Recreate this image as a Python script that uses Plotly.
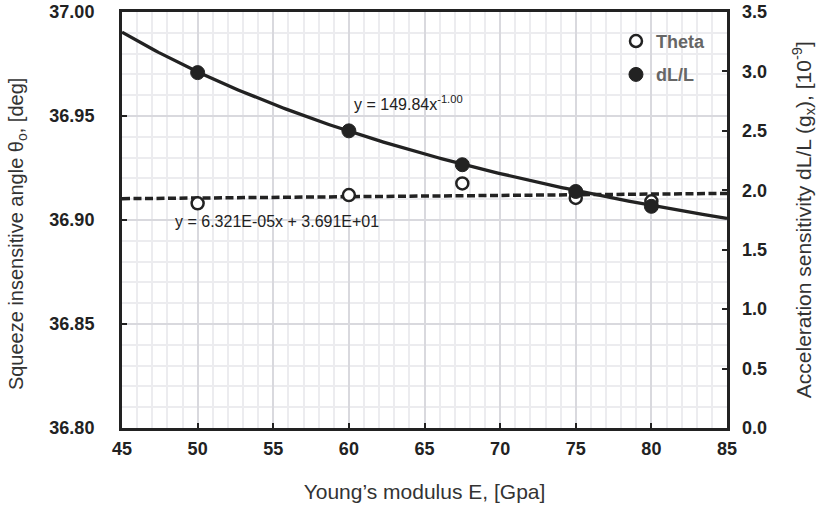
import numpy as np
import plotly.graph_objects as go

# ---- data ----
modulus_E = [50, 60, 67.5, 75, 80]
theta_deg = [36.908, 36.912, 36.9176, 36.9106, 36.9090]
dl_over_l = [2.99, 2.50, 2.215, 1.99, 1.865]

# trendline coefficients shown on chart
power_coef = 149.84
power_exp = -1.00
lin_slope = 6.321e-05
lin_intercept = 36.9074

x_ticks = [45, 50, 55, 60, 65, 70, 75, 80, 85]
left_ticks = [36.80, 36.85, 36.90, 36.95, 37.00]
right_ticks = [0.0, 0.5, 1.0, 1.5, 2.0, 2.5, 3.0, 3.5]

trend_x = np.linspace(45, 85, 200)

DARK = "#222222"
FONT = "Liberation Sans, Arial, sans-serif"

fig = go.Figure()

# linear trendline (Theta)
fig.add_trace(go.Scatter(
    x=trend_x, y=lin_slope * trend_x + lin_intercept, mode="lines",
    line=dict(color=DARK, width=3.5, dash="8px,3.5px"),
    showlegend=False, hoverinfo="skip", yaxis="y"))
# power trendline (dL/L)
fig.add_trace(go.Scatter(
    x=trend_x, y=power_coef * trend_x ** power_exp, mode="lines",
    line=dict(color=DARK, width=3.3), showlegend=False, hoverinfo="skip",
    yaxis="y2"))

fig.add_trace(go.Scatter(
    x=modulus_E, y=theta_deg, mode="markers", name="Theta",
    marker=dict(symbol="circle", size=12, color="white",
                line=dict(color=DARK, width=2.5)),
    yaxis="y", legendgroup="a"))
fig.add_trace(go.Scatter(
    x=modulus_E, y=dl_over_l, mode="markers", name="dL/L",
    marker=dict(symbol="circle", size=14, color=DARK,
                line=dict(color=DARK, width=1)),
    yaxis="y2", legendgroup="b"))

tickfont = dict(family=FONT, size=18, color=DARK, weight="bold")

fig.update_layout(
    width=817, height=508,
    margin=dict(l=122, r=90, t=12, b=80),
    paper_bgcolor="white", plot_bgcolor="white",
    font=dict(family=FONT),
    showlegend=True,
    legend=dict(x=0.8165, y=0.974, xanchor="left", yanchor="top",
                bgcolor="rgba(0,0,0,0)", traceorder="grouped",
                tracegroupgap=7, itemwidth=30,
                font=dict(family=FONT, size=18, color="#666666", weight="bold")),
    xaxis=dict(range=[45, 85], tickvals=x_ticks, ticktext=[str(v) for v in x_ticks],
               tickfont=tickfont, ticks="inside", ticklen=5, tickwidth=2,
               tickcolor=DARK, showline=True, linecolor=DARK, linewidth=3,
               mirror=True, showgrid=True, gridcolor="#d9d9de", gridwidth=1.5,
               minor=dict(dtick=1, showgrid=True, gridcolor="#ececef", gridwidth=1.5),
               zeroline=False, automargin=False, ticklabelstandoff=2,
               title=dict(text="Young’s modulus E, [Gpa]",
                          font=dict(family=FONT, size=21, color="#333333"), standoff=27)),
    yaxis=dict(range=[36.8, 37.0], tickvals=left_ticks,
               ticktext=[f"{v:.2f}" for v in left_ticks],
               tickfont=tickfont, ticks="inside", ticklen=5, tickwidth=2,
               tickcolor=DARK, showline=True, linecolor=DARK, linewidth=3,
               mirror=True, showgrid=True, gridcolor="#d9d9de", gridwidth=1.5,
               minor=dict(dtick=0.01, showgrid=True, gridcolor="#ececef", gridwidth=1.5),
               zeroline=False, ticklabelstandoff=21, automargin=False,
               ticklabeloverflow="allow"),
    yaxis2=dict(range=[0, 3.5], tickvals=right_ticks,
                ticktext=[f"{v:.1f}" for v in right_ticks],
                overlaying="y", side="right", tickfont=tickfont,
                ticks="inside", ticklen=5, tickwidth=2, tickcolor=DARK,
                showline=False, showgrid=False, zeroline=False,
                ticklabelstandoff=14, automargin=False,
                ticklabeloverflow="allow"),
    annotations=[
        dict(x=60.2, y=2.735, xref="x", yref="y2", xanchor="left", yanchor="middle",
             text="y = 149.84x<sup>-1.00</sup>", showarrow=False,
             font=dict(family=FONT, size=16, color=DARK)),
        dict(x=48.35, y=36.8995, xref="x", yref="y", xanchor="left", yanchor="middle",
             text="y = 6.321E-05x + 3.691E+01", showarrow=False,
             font=dict(family=FONT, size=16, color=DARK)),
        # y-axis titles
        dict(x=-0.1736, y=0.466, xref="paper", yref="paper", xanchor="center",
             yanchor="middle", textangle=-90, showarrow=False,
             text="Squeeze insensitive angle θ<sub>o</sub>, [deg]",
             font=dict(family=FONT, size=20, color="#333333")),
        dict(x=1.1256, y=0.502, xref="paper", yref="paper", xanchor="center",
             yanchor="middle", textangle=-90, showarrow=False,
             text="Acceleration sensitivity dL/L (g<sub>x</sub>), [10<sup>-9</sup>]",
             font=dict(family=FONT, size=21, color="#333333")),
    ],
)

fig.write_html("out.html", config={"displayModeBar": False},
               post_script="document.body.style.margin='0';")
